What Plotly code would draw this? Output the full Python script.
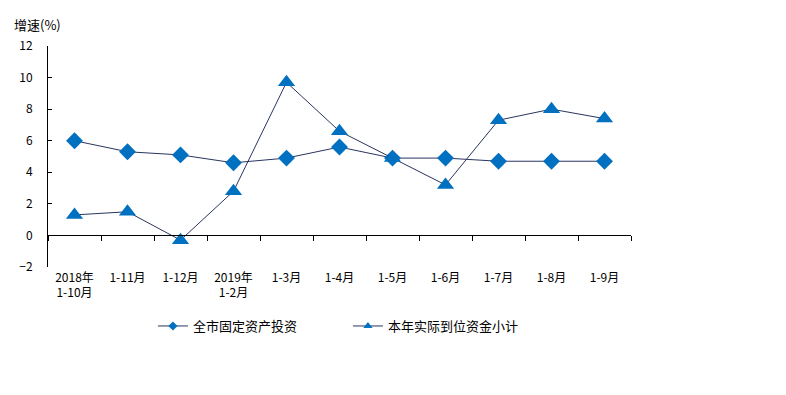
import plotly.graph_objects as go

categories = ["2018年<br>1-10月", "1-11月", "1-12月", "2019年<br>1-2月", "1-3月", "1-4月",
              "1-5月", "1-6月", "1-7月", "1-8月", "1-9月"]
fixed_invest = [6.0, 5.3, 5.1, 4.6, 4.9, 5.6, 4.9, 4.9, 4.7, 4.7, 4.7]
funds_total = [1.3, 1.5, -0.3, 2.8, 9.7, 6.6, 4.9, 3.2, 7.3, 8.0, 7.4]
series_names = ["全市固定资产投资", "本年实际到位资金小计"]
y_ticks = [-2, 0, 2, 4, 6, 8, 10, 12]

FONT = "SimSun, 'Noto Sans CJK SC', sans-serif"
LINE = "#2A3560"
MARK = "#0070C0"

ymin, ymax = -2, 12

fig = go.Figure()
for vals, name, sym, size in [(fixed_invest, series_names[0], "diamond", 13),
                              (funds_total, series_names[1], "triangle-up", 15)]:
    fig.add_trace(go.Scatter(x=categories, y=vals, name=name, mode="lines+markers",
                             line=dict(color=LINE, width=1), showlegend=False,
                             marker=dict(symbol=sym, size=size, color=MARK)))
# legend entries with small symbols like the original
for name, sym, size in [(series_names[0], "diamond", 7), (series_names[1], "triangle-up", 8)]:
    fig.add_trace(go.Scatter(x=[None], y=[None], name=name, mode="lines+markers",
                             line=dict(color=LINE, width=1),
                             marker=dict(symbol=sym, size=size, color=MARK)))

fig.update_layout(
    width=786, height=395,
    margin=dict(l=48, r=155, t=46, b=128),
    paper_bgcolor="white", plot_bgcolor="white",
    font=dict(family=FONT, size=12, color="black"),
    showlegend=True,
    legend=dict(orientation="h", x=0.18, xanchor="left", y=-0.267, yanchor="middle",
                font=dict(size=13), entrywidth=150, entrywidthmode="pixels",
                itemwidth=30, tracegroupgap=0),
    xaxis=dict(type="category", anchor="free", position=(0 - ymin) / (ymax - ymin),
               showline=True, linecolor="black", linewidth=1,
               ticks="outside", ticklen=5, tickcolor="black", tickson="boundaries",
               ticklabelstandoff=31, showgrid=False, zeroline=False,
               range=[-0.5, len(categories) - 0.5], tickfont=dict(size=12)),
    yaxis=dict(range=[ymin, ymax], tickvals=y_ticks, showline=True, linecolor="black",
               linewidth=1, ticks="inside", ticklen=4, tickcolor="black",
               showgrid=False, zeroline=False, ticklabelstandoff=12,
               tickfont=dict(size=12)),
    annotations=[dict(text="增速(%)", xref="paper", yref="paper", x=-0.062, y=1 + 10 / 221,
                      xanchor="left", yanchor="bottom", showarrow=False,
                      font=dict(size=13))],
)

fig.write_html("out.html")
